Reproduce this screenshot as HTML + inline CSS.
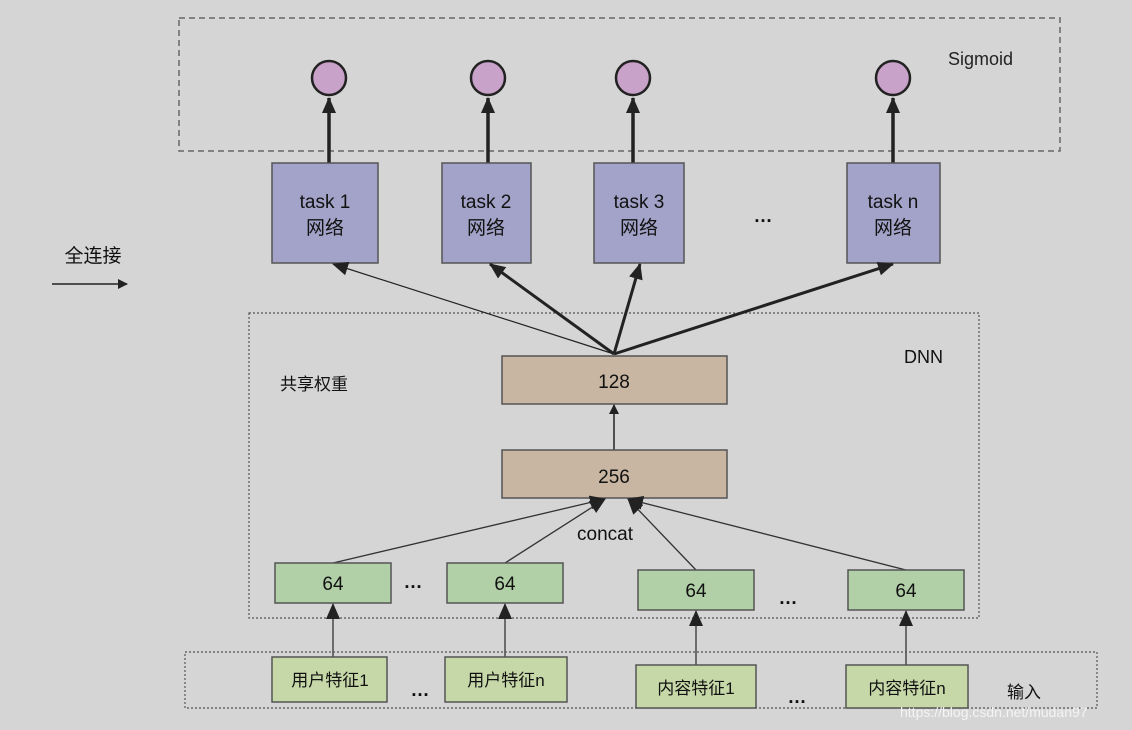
<!DOCTYPE html>
<html><head><meta charset="utf-8"><style>
body{margin:0;background:#d5d5d5;}
svg{display:block;font-family:"Liberation Sans","Noto Sans CJK SC",sans-serif;}
</style></head><body>
<svg width="1132" height="730" viewBox="0 0 1132 730">
<defs>
<marker id="a" markerWidth="10" markerHeight="10" refX="9" refY="5" orient="auto" markerUnits="userSpaceOnUse"><path d="M0,0 L10,5 L0,10 z" fill="#222"/></marker>
<marker id="b" markerWidth="16" markerHeight="14" refX="15" refY="7" orient="auto" markerUnits="userSpaceOnUse"><path d="M0,0 L16,7 L0,14 z" fill="#222"/></marker>
</defs>
<rect width="1132" height="730" fill="#d5d5d5"/>
<rect x="179" y="18" width="881" height="133" fill="none" stroke="#666" stroke-width="1.5" stroke-dasharray="6,4"/>
<text x="948" y="65" font-size="18" fill="#222">Sigmoid</text>
<g fill="#c8a2c8" stroke="#222" stroke-width="2.5">
<circle cx="329" cy="78" r="17"/><circle cx="488" cy="78" r="17"/><circle cx="633" cy="78" r="17"/><circle cx="893" cy="78" r="17"/></g>
<g stroke="#222" stroke-width="3.5">
<line x1="329" y1="163" x2="329" y2="98" marker-end="url(#b)"/>
<line x1="488" y1="163" x2="488" y2="98" marker-end="url(#b)"/>
<line x1="633" y1="163" x2="633" y2="98" marker-end="url(#b)"/>
<line x1="893" y1="163" x2="893" y2="98" marker-end="url(#b)"/></g>
<g fill="#a3a3c9" stroke="#555" stroke-width="1.5">
<rect x="272" y="163" width="106" height="100"/><rect x="442" y="163" width="89" height="100"/><rect x="594" y="163" width="90" height="100"/><rect x="847" y="163" width="93" height="100"/></g>
<g font-size="19" fill="#111" text-anchor="middle">
<text x="325" y="208">task 1</text><text x="325" y="234">网络</text>
<text x="486" y="208">task 2</text><text x="486" y="234">网络</text>
<text x="639" y="208">task 3</text><text x="639" y="234">网络</text>
<text x="893" y="208">task n</text><text x="893" y="234">网络</text>
<text x="763" y="222" font-weight="bold">…</text>
<text x="93" y="262">全连接</text>
</g>
<line x1="52" y1="284" x2="127" y2="284" stroke="#222" stroke-width="1.5" marker-end="url(#a)"/>
<rect x="249" y="313" width="730" height="305" fill="none" stroke="#555" stroke-width="1.2" stroke-dasharray="2,2"/>
<text x="904" y="363" font-size="18" fill="#111">DNN</text>
<text x="280" y="390" font-size="17" fill="#111">共享权重</text>
<g stroke="#222">
<line x1="614" y1="354" x2="333" y2="264" stroke-width="1.2" marker-end="url(#b)"/>
<line x1="614" y1="354" x2="490" y2="264" stroke-width="3" marker-end="url(#b)"/>
<line x1="614" y1="354" x2="640" y2="264" stroke-width="3" marker-end="url(#b)"/>
<line x1="614" y1="354" x2="893" y2="264" stroke-width="3" marker-end="url(#b)"/>
<line x1="614" y1="450" x2="614" y2="405" stroke-width="1.5" marker-end="url(#a)"/>
</g>
<g fill="#c8b5a2" stroke="#555" stroke-width="1.5">
<rect x="502" y="356" width="225" height="48"/><rect x="502" y="450" width="225" height="48"/></g>
<g font-size="19" fill="#111" text-anchor="middle">
<text x="614" y="388">128</text><text x="614" y="483">256</text>
<text x="605" y="540">concat</text></g>
<g stroke="#333" stroke-width="1.3">
<line x1="333" y1="563" x2="605" y2="499" marker-end="url(#b)"/>
<line x1="505" y1="563" x2="605" y2="499" marker-end="url(#b)"/>
<line x1="696" y1="570" x2="628" y2="499" marker-end="url(#b)"/>
<line x1="906" y1="570" x2="628" y2="499" marker-end="url(#b)"/>
<line x1="333" y1="657" x2="333" y2="604" marker-end="url(#b)"/>
<line x1="505" y1="657" x2="505" y2="604" marker-end="url(#b)"/>
<line x1="696" y1="665" x2="696" y2="611" marker-end="url(#b)"/>
<line x1="906" y1="665" x2="906" y2="611" marker-end="url(#b)"/>
</g>
<g fill="#b2d0a8" stroke="#555" stroke-width="1.5">
<rect x="275" y="563" width="116" height="40"/><rect x="447" y="563" width="116" height="40"/><rect x="638" y="570" width="116" height="40"/><rect x="848" y="570" width="116" height="40"/></g>
<g font-size="19" fill="#111" text-anchor="middle">
<text x="333" y="590">64</text><text x="505" y="590">64</text><text x="696" y="597">64</text><text x="906" y="597">64</text>
<g font-weight="bold"><text x="413" y="588">…</text><text x="788" y="604">…</text>
<text x="420" y="696">…</text><text x="797" y="703">…</text></g></g>
<rect x="185" y="652" width="912" height="56" fill="none" stroke="#555" stroke-width="1.2" stroke-dasharray="2,2"/>
<g fill="#c6d8a8" stroke="#555" stroke-width="1.5">
<rect x="272" y="657" width="115" height="45"/><rect x="445" y="657" width="122" height="45"/><rect x="636" y="665" width="120" height="43"/><rect x="846" y="665" width="122" height="43"/></g>
<g font-size="17" fill="#111" text-anchor="middle">
<text x="330" y="686">用户特征1</text><text x="506" y="686">用户特征n</text><text x="696" y="694">内容特征1</text><text x="907" y="694">内容特征n</text>
<text x="1024" y="698">输入</text></g>
<text x="900" y="717" font-size="14" fill="#f4f4f4">https://blog.csdn.net/mudan97</text>
</svg>
</body></html>
